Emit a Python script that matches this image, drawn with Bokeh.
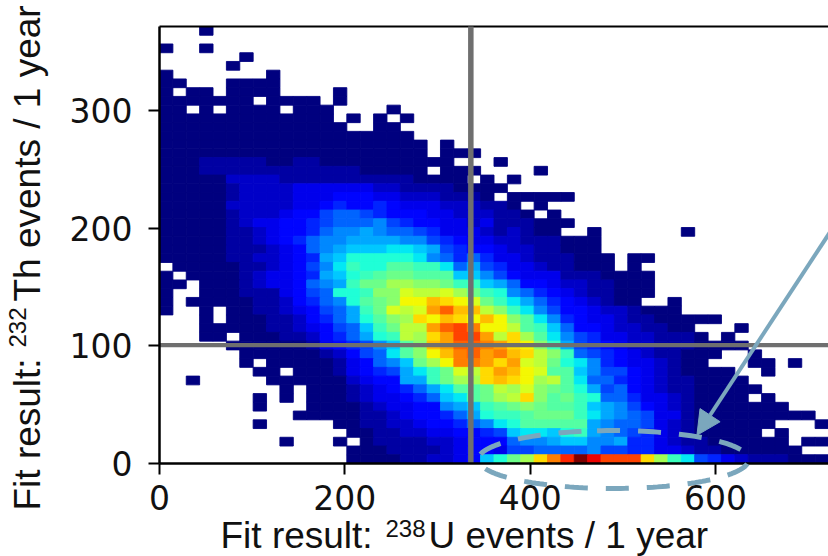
from bokeh.embed import file_html
from bokeh.resources import INLINE
from bokeh.plotting import figure
from bokeh.models import (ColumnDataSource, LinearColorMapper, FixedTicker, Label,
                          Arrow, NormalHead, Range1d)
import numpy as np

# ---- data: histogram cell levels. Row 0 = top row, '.' = empty cell.
# level digits 0-9 a-v = 0..31 on the jet colour scale; omitted trailing cells are empty
level_rows = [
    "...0",
    "",
    "0..0",
    "......0",
    ".....0",
    "0.......0",
    "00...0000",
    "0.00.0000....0",
    "0000000.0000.0",
    "00.0.0000.000....0",
    "0000000000000.0.0.0",
    "00000000000000..00",
    "0000000000000000000",
    "00000000000000000000.0",
    "00000000000000000000.000",
    "0001111100110000000000...0",
    "00011111111111100000.000....0",
    "00000222211111111110000.0.0",
    "00000" "1" "2222" "333333" "22" "1111" "0000",
    "00000" "12222" "33344433" "2221110" "." "00000",
    "00000" "22222" "33" "45" "44" "54" "333" "222" "11" "0" ".0",
    "00000" "12223" "44677654" "44" "33" "222" "11" "0" ".0",
    "00000" "1233" "44" "5677786" "544" "33" "23" "111" "000",
    "00000" "1123" "44" "5788987" "765" "333" "2121" "00" "..0......0",
    "00000" "1123" "45" "7" "88" "9999" "88" "654" "33" "22" "111" "000",
    "00000" "1112" "34" "7" "89" "aaa" "bb" "a9" "654" "4" "3" "22" "11" "000",
    "00000" "1122" "345" "9a" "ccccc" "b" "875" "75" "33" "2" "111" "000" ".00",
    ".00000" "11234" "68" "bdcceedd" "b7965" "33" "2" "11" "000" ".0",
    "0." "0000" "123345" "9acdeffeee" "aa8643" "33" "111" "0000",
    "00." "0001" "2334" "789" "dffhhggf" "dda97" "44" "3" "22" "11" "000",
    "0.." "0001" "1134" "67" "ccdggjiijh" "fdc87" "54321" "1" "000",
    "0.0" "0000" "1124" "578" "cefgkkmlkj" "fdb97" "54321" "00" "..0",
    "0..0.00" "1123" "467" "9dfjijnpmm" "igdb8" "6443" "22" "1" "000",
    "...0.000" "1124" "579" "ceghlkmlk" "mkgeb" "85433" "2" "11" "00000",
    "...00000" "1123" "467" "adfiinpq" "okkied" "a7443" "22" "11" "00" "...0",
    "...00.000" "112" "4579" "cdihlnqq" "nilheb" "86533" "22" "111" "0" ".0",
    "....." "000000" "1345" "68aegmnpp" "onlkgd" "96543" "22" "111" "0000",
    "......" "00000" "0124" "67begkmop" "nomligd" "76543" "2" "11" "000" "..0",
    "......0." "00000" "1347" "8afhkoo" "nlnjifcb" "85433" "21" "00" "...00.0",
    "......." "00." "000" "13456" "9bdfji" "lnmkjeea" "86643" "21" "0000" "..0",
    "..0....." "00000" "02344" "99dfhh" "lmlkhieb" "77543" "211" "0000",
    "........." "0." "00" "01234" "579bee" "fihjgfec" "96743" "211" "00000",
    "......." "0.0." "00" "01233" "457abe" "fhilgefd" "c7753" "321" "0000" ".0",
    "......." "0..." "00" "00123" "34489a" "defgfeed" "a9864" "321" "0000000",
    ".........." "000" "00112" "344579" "cddefffd" "b9876" "331" "000000000",
    "......." "0....." "00112" "234457" "8bceeeee" "98776" "321" "000000" "...0",
    ".............." "0011" "223344" "56abbacd" "98765" "321" "00000" ".0",
    "........." "0..." "0." "011" "112234" "447889aa" "88955" "321" "1" "000000" ".00",
    ".............." "0001" "111234" "43667777" "86655" "332" "11" "000000",
    ".............." "0000" "112234" "acfhlorv" "sqqqlhdb" "6532111" "000",
]
n_bins = 50
x_max = 722.0
y_max = 371.3
x_ticks = [0, 200, 400, 600]
y_ticks = [0, 100, 200, 300]
u238_mean = 336.0      # vertical reference line
th232_mean = 100.5     # horizontal reference line
ellipse_center = (490.0, 3.4)
ellipse_radii = (146.0, 24.6)
ellipse_start_deg = 97.0
arrow_from = (724.0, 197.0)
arrow_to = (580.0, 24.0)

GREY = "#6f6f6f"
TEAL = "#7ba7bd"
DIGITS = "0123456789abcdefghijklmnopqrstuv"

# the plot area fills the whole page, so that nothing outside the axes is cut off
W, H = 828, 556
AX_LEFT, AX_RIGHT, AX_TOP, AX_BOTTOM = 159, 828, 26, 463
sx = (AX_RIGHT - AX_LEFT) / x_max
sy = (AX_BOTTOM - AX_TOP) / y_max


def jet(t):
    r = np.interp(t, [0, .35, .66, .89, 1], [0, 0, 1, 1, .5])
    g = np.interp(t, [0, .125, .375, .64, .91, 1], [0, 0, 1, 1, 0, 0])
    b = np.interp(t, [0, .11, .34, .65, 1], [.5, 1, 1, 0, 0])
    return "#%02x%02x%02x" % (int(r * 255), int(g * 255), int(b * 255))


palette = [jet(i / 255) for i in range(256)]
mapper = LinearColorMapper(palette=palette, low=0, high=len(DIGITS) - 1)

dx, dy = x_max / n_bins, y_max / n_bins
left, right, bottom, top, levels = [], [], [], [], []
for k, row in enumerate(level_rows):
    for c, ch in enumerate(row.ljust(n_bins, ".")):
        if ch == ".":
            continue
        left.append(c * dx)
        right.append((c + 1) * dx)
        top.append(y_max - k * dy)
        bottom.append(y_max - (k + 1) * dy)
        levels.append(DIGITS.index(ch))
src = ColumnDataSource(dict(left=left, right=right, top=top, bottom=bottom, level=levels))

p = figure(width=W, height=H, output_backend="svg", toolbar_location=None,
           x_range=Range1d(-AX_LEFT / sx, x_max),
           y_range=Range1d((AX_BOTTOM - H) / sy, AX_BOTTOM / sy),
           min_border_left=0, min_border_right=0, min_border_top=0, min_border_bottom=0,
           background_fill_color="white", border_fill_color="white",
           styles={"position": "absolute", "left": "0px", "top": "0px"})
p.grid.visible = False
p.outline_line_color = None

cmap = {"field": "level", "transform": mapper}
p.quad(left="left", right="right", top="top", bottom="bottom", source=src,
       fill_color=cmap, line_color=cmap, line_width=0.9)

for ax, ticks in ((p.xaxis[0], x_ticks), (p.yaxis[0], y_ticks)):
    ax.ticker = FixedTicker(ticks=ticks)
    ax.axis_line_color = "black"
    ax.axis_line_width = 2.5
    ax.major_tick_line_color = "black"
    ax.major_tick_line_width = 2
    ax.major_tick_in = 0
    ax.major_tick_out = 11
    ax.minor_tick_line_color = None
    ax.major_label_text_font = "DejaVu Sans"
    ax.major_label_text_font_size = "33px"
    ax.major_label_text_color = "#111111"
    ax.fixed_location = 0
    ax.bounds = (0, x_max if ax is p.xaxis[0] else y_max)
p.xaxis[0].major_label_standoff = 10
p.yaxis[0].major_label_standoff = 16

# top spine
p.line([0, x_max], [y_max, y_max], line_color="black", line_width=2)
# reference lines
p.line([u238_mean, u238_mean], [0, y_max], line_color=GREY, line_width=5.5)
p.line([0, x_max], [th232_mean, th232_mean], line_color=GREY, line_width=4.3)

theta = np.radians(ellipse_start_deg - np.linspace(0, 360, 181))
p.line(ellipse_center[0] + ellipse_radii[0] * np.cos(theta),
       ellipse_center[1] + ellipse_radii[1] * np.sin(theta),
       line_color=TEAL, line_width=5, line_dash="23 18", level="overlay")

p.add_layout(Arrow(x_start=arrow_from[0], y_start=arrow_from[1], x_end=arrow_to[0], y_end=arrow_to[1],
                   line_color=TEAL, line_width=4,
                   end=NormalHead(size=24, fill_color=TEAL, line_color=TEAL)))


def text(x, y, s, size, angle=0.0):
    # x, y: page pixels of the text's start on its baseline
    p.add_layout(Label(x=x, y=H - y, x_units="screen", y_units="screen",
                       text=s, angle=angle, text_font="Liberation Sans",
                       text_font_size=f"{size}px", text_color="#111111",
                       text_baseline="alphabetic"))


# x label
text(220, 535, "Fit result:", 37)
text(385, 528, "238", 24)
text(428, 535, "U events / 1 year", 37)
# y label
a = np.pi / 2
text(27, 510, "Fit result:", 37, a)
text(17, 347, "232", 24, a)
text(27, 301, "Th events / 1 year", 37, a)

open("out.html", "w").write(file_html(p, INLINE))
